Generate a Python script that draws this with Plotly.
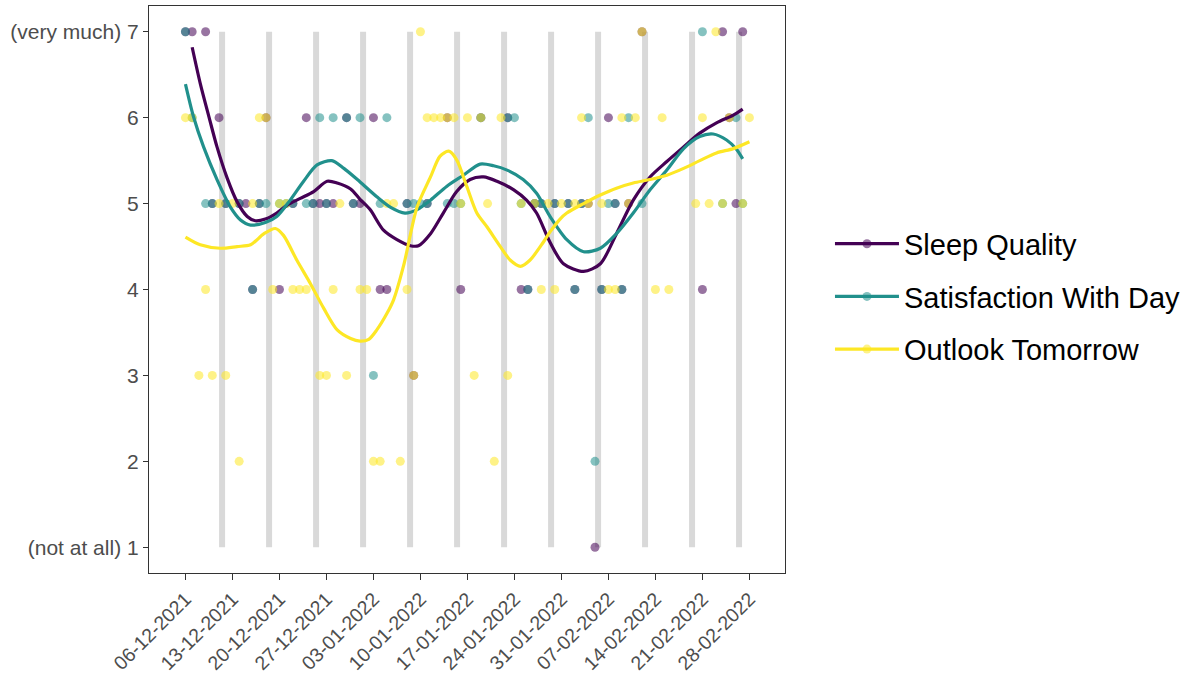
import pandas as pd
import plotly.graph_objects as go

# ---------------- data ----------------
start_date = "2021-12-06"
day_offsets = list(range(85))

N = None
sleep_quality = [7, 7, N, 7, 5, 6, 5, N, 5, 5, 4, 5, 6, N, 4, N, 5, N, 6, 5,
                 5, 5, 5, N, 6, 5, 5, N, 6, 4, 4, N, N, 5, 3, N, 5, N, N, 6,
                 N, 4, N, N, 6, N, N, N, 6, N, 4, 4, 5, 5, N, 5, N, 5, 4, 5,
                 5, 1, 4, 6, 5, 4, 5, N, 7, N, N, N, N, N, N, N, N, 4, N, N,
                 7, 6, 5, 7, N]
satisfaction = [7, 6, N, 5, 5, N, 5, N, 5, N, 4, 5, 5, N, 5, 5, 5, N, 5, 5,
                6, 5, 6, N, 6, 5, 6, N, 3, 5, 6, N, N, 5, 5, 5, 5, N, N, 5,
                5, 5, N, N, 6, N, N, N, 6, 6, 5, 4, 5, 5, N, 5, N, 5, 4, 5,
                6, 2, 4, 5, 5, 4, 6, N, 5, N, N, N, N, N, N, N, N, 7, N, N,
                5, N, 6, 5, N]
outlook = [6, 6, 3, 4, 3, 5, 3, 5, 2, N, 5, 6, 6, 4, 5, 5, 4, 4, 4, N,
           3, 3, 4, 5, 3, N, 4, 4, 2, 2, 5, 5, 2, 4, 3, 7, 6, 6, 6, 6,
           6, 5, 6, 3, 6, 5, 2, 6, 3, N, 5, N, 5, 4, 5, 4, 5, N, 5, 6,
           5, N, 5, 4, 4, 6, 5, 6, 7, N, 4, 6, 4, N, N, N, 5, 6, 5, 7,
           5, 6, N, 5, 6]

# smoothed trends (day offset, value)
sleep_smooth_days = [1, 2.2, 3.5, 4.7, 6.2, 7.7, 9.2, 10.4, 11.9, 13.6, 15.1, 17.1,
                     19.1, 21.1, 22.6, 24.6, 26, 27.5, 29.5, 31.5, 33.5, 34.7, 36.5,
                     38.4, 40.4, 42.4, 44.4, 46.4, 48.9, 50.8, 52.3, 54.3, 56.3, 59.3,
                     61.8, 64.2, 66.7, 69.2, 71.7, 74.2, 76.6, 79.1, 81.6, 83]
sleep_smooth = [6.82, 6.40, 6.01, 5.66, 5.30, 5.02, 4.85, 4.80, 4.82, 4.89, 4.98, 5.06,
                5.14, 5.26, 5.24, 5.17, 5.05, 4.93, 4.69, 4.58, 4.51, 4.51, 4.65,
                4.89, 5.14, 5.28, 5.31, 5.26, 5.16, 5.04, 4.89, 4.55, 4.30, 4.21,
                4.30, 4.65, 5.04, 5.31, 5.49, 5.66, 5.82, 5.94, 6.03, 6.10]

satis_smooth_days = [0, 1.2, 2.7, 4.7, 6.7, 8.2, 9.7, 11.9, 13.6, 15.6, 17.6, 19.6,
                     21.8, 23.6, 25.6, 28.5, 30.5, 32.7, 34.5, 36.5, 38.9, 41.4, 43.9,
                     45.9, 47.9, 50.3, 52.3, 54.3, 56.8, 59.3, 61.8, 64.2, 66.7, 69.2,
                     71.7, 74.2, 76.6, 78.6, 80.6, 82.1, 83]
satis_smooth = [6.39, 6.01, 5.66, 5.28, 4.96, 4.81, 4.75, 4.78, 4.85, 5.04, 5.26, 5.45,
                5.50, 5.41, 5.28, 5.08, 4.96, 4.89, 4.93, 5.04, 5.20, 5.33, 5.46,
                5.44, 5.39, 5.28, 5.12, 4.85, 4.58, 4.44, 4.48, 4.65, 4.89, 5.16,
                5.39, 5.64, 5.78, 5.81, 5.74, 5.63, 5.52]

outlook_smooth_days = [0, 2.2, 5.2, 7.7, 9.7, 11.7, 13.4, 14.6, 16.6, 18.6, 20.6, 22.6,
                       24.6, 26, 27.3, 28.5, 30, 31, 32.5, 34.5, 36.5, 37.9, 39.2, 40.4,
                       41.9, 43.4, 44.9, 46.9, 48.4, 49.9, 51.3, 53.3, 54.3, 55.8, 56.8,
                       59.3, 61.8, 64.2, 66.7, 69.2, 71.7, 74.2, 76.6, 79.1, 81.6, 84]
outlook_smooth = [4.61, 4.52, 4.48, 4.50, 4.52, 4.65, 4.71, 4.63, 4.34, 4.07, 3.78, 3.53,
                  3.43, 3.40, 3.42, 3.53, 3.72, 3.88, 4.28, 4.96, 5.31, 5.55, 5.61, 5.51,
                  5.20, 4.89, 4.73, 4.50, 4.34, 4.27, 4.34, 4.55, 4.67, 4.82, 4.89,
                  5.00, 5.10, 5.18, 5.24, 5.28, 5.33, 5.41, 5.50, 5.59, 5.64, 5.72]

weekend_bars = ["2021-12-11 11:00", "2021-12-18 11:00", "2021-12-25 11:00",
                "2022-01-01 11:00", "2022-01-08 11:00", "2022-01-15 11:00",
                "2022-01-22 11:00", "2022-01-29 11:00", "2022-02-05 11:00",
                "2022-02-12 11:00", "2022-02-19 11:00", "2022-02-26 11:00"]

tick_dates = ["2021-12-06", "2021-12-13", "2021-12-20", "2021-12-27", "2022-01-03",
              "2022-01-10", "2022-01-17", "2022-01-24", "2022-01-31", "2022-02-07",
              "2022-02-14", "2022-02-21", "2022-02-28"]
tick_labels = ["06-12-2021", "13-12-2021", "20-12-2021", "27-12-2021", "03-01-2022",
               "10-01-2022", "17-01-2022", "24-01-2022", "31-01-2022", "07-02-2022",
               "14-02-2022", "21-02-2022", "28-02-2022"]
y_ticks = [1, 2, 3, 4, 5, 6, 7]
y_tick_labels = ["(not at all) 1", "2", "3", "4", "5", "6", "(very much) 7"]

series_names = ["Sleep Quality", "Satisfaction With Day", "Outlook Tomorrow"]
series_colors = ["#440154", "#21908C", "#FDE725"]

# ---------------- figure ----------------
base = pd.Timestamp(start_date)
to_date = lambda offs: [base + pd.Timedelta(days=float(d)) for d in offs]

FONT = "Liberation Sans, Arial, sans-serif"
fig = go.Figure()

# weekend bars
bx, by = [], []
for d in weekend_bars:
    bx += [pd.Timestamp(d), pd.Timestamp(d), None]
    by += [1, 7, None]
fig.add_trace(go.Scatter(x=bx, y=by, mode="lines", line=dict(color="#D9D9D9", width=6),
                         showlegend=False, hoverinfo="skip"))

dates = to_date(day_offsets)
for vals, col in zip([sleep_quality, satisfaction, outlook], series_colors):
    fig.add_trace(go.Scatter(x=dates, y=vals, mode="markers",
                             marker=dict(color=col, size=9, opacity=0.55, line=dict(width=0)),
                             showlegend=False))

smooths = [(sleep_smooth_days, sleep_smooth), (satis_smooth_days, satis_smooth),
           (outlook_smooth_days, outlook_smooth)]
for (sd, sv), col in zip(smooths, series_colors):
    fig.add_trace(go.Scatter(x=to_date(sd), y=sv, mode="lines",
                             line=dict(color=col, width=3.2, shape="spline", smoothing=0.8),
                             showlegend=False))

# legend entries
for name, col in zip(series_names, series_colors):
    fig.add_trace(go.Scatter(x=[None], y=[None], mode="lines+markers", name=name,
                             legendgroup=name,
                             line=dict(color=col, width=3.2),
                             marker=dict(color=col, size=9, opacity=0.55)))

fig.update_layout(
    width=1193, height=674,
    paper_bgcolor="white", plot_bgcolor="white",
    margin=dict(l=149, r=408, t=6, b=101, autoexpand=False),
    font=dict(family=FONT, color="#4D4D4D"),
    legend=dict(x=1.0707, xanchor="left", y=0.487, yanchor="middle",
                font=dict(size=29, color="black", family=FONT),
                itemwidth=64, tracegroupgap=12, bgcolor="rgba(0,0,0,0)"),
)
fig.update_xaxes(
    type="date",
    range=[base - pd.Timedelta(days=5.43), base + pd.Timedelta(days=89.3)],
    tickvals=[pd.Timestamp(t) for t in tick_dates], ticktext=tick_labels,
    tickangle=-45, tickfont=dict(size=19.5, color="#4D4D4D"),
    ticks="outside", ticklen=6, tickwidth=1.3, tickcolor="#333333",
    showline=True, linecolor="#333333", linewidth=1.3, mirror=True,
    showgrid=False, zeroline=False,
)
fig.update_yaxes(
    range=[0.7, 7.3],
    tickvals=y_ticks, ticktext=y_tick_labels,
    tickfont=dict(size=21, color="#4D4D4D"),
    ticks="outside", ticklen=5, tickwidth=1.3, tickcolor="#333333",
    showline=True, linecolor="#333333", linewidth=1.3, mirror=True,
    showgrid=False, zeroline=False,
)

fig.write_html("out.html", config={"displayModeBar": False},
               post_script="document.body.style.margin='0px';")
